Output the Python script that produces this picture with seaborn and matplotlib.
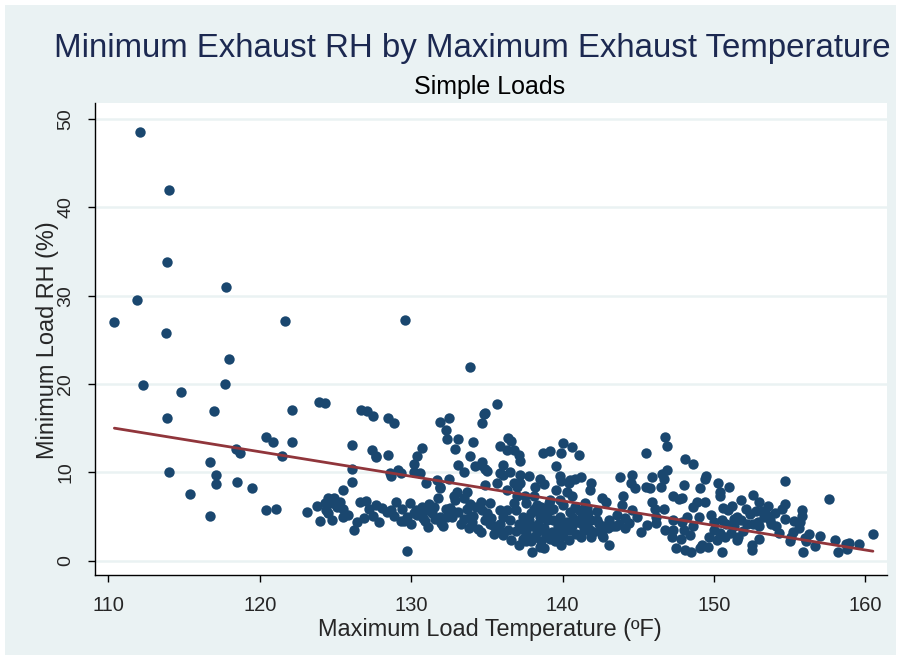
import numpy as np
import pandas as pd
import seaborn as sns
import matplotlib.pyplot as plt
from matplotlib.patches import Rectangle

# max exhaust temperature (F) / min exhaust RH (%), grouped by x range
temp_left = [110.4, 111.9, 112.1, 114.0, 113.9, 117.8, 113.8, 118.0, 112.3, 114.8,
             117.7, 121.7, 113.9, 117.0, 122.1, 123.9, 124.3, 120.4, 120.9, 122.1,
             118.4, 118.7, 121.5, 116.7, 114.0, 117.1, 117.1, 118.5, 119.5, 115.4,
             116.7, 120.4, 121.1, 123.1, 123.8, 124.0, 129.6, 133.9, 135.7]
rh_left = [27.0, 29.5, 48.5, 42.0, 33.8, 31.0, 25.8, 22.8, 19.9, 19.1,
           20.0, 27.1, 16.2, 16.9, 17.1, 18.0, 17.9, 14.0, 13.4, 13.4,
           12.7, 12.2, 11.8, 11.2, 10.1, 9.7, 8.7, 8.9, 8.2, 7.5,
           5.1, 5.7, 5.9, 5.5, 6.2, 4.5, 27.2, 21.9, 17.7]

temp_125_137 = [126.7, 127.1, 127.5, 128.5, 128.9, 131.9, 132.5, 132.3, 132.4, 133.1,
                134.7, 134.8, 134.9, 134.1, 132.9, 126.1, 127.4, 127.7, 127.7, 128.5,
                130.7, 130.4, 130.2, 126.1, 126.1, 128.6, 129.1, 129.3, 128.7, 130.2,
                130.6, 131.0, 131.7, 131.9, 132.5, 133.1, 133.5, 133.9, 134.7, 134.9,
                135.0, 134.2, 134.6, 135.9, 136.1, 136.4, 136.6, 136.3, 136.8, 134.9,
                135.7, 135.9, 136.1, 136.5, 125.5, 124.3, 124.5, 124.8, 124.4, 124.9,
                125.1, 125.3, 125.5, 125.5, 124.8, 124.5, 126.2, 126.4, 126.6, 127.0,
                127.2, 127.7, 128.4, 128.7, 129.3, 129.5, 129.7, 129.7, 129.9, 130.3,
                130.6, 130.2, 130.4, 130.7, 131.0, 131.4, 131.6, 131.9, 132.3, 132.4,
                132.7, 131.8, 131.9, 132.8, 133.0, 132.9, 133.5, 133.7, 133.7, 133.8,
                133.5, 133.8, 134.4, 134.3, 134.7, 135.0, 134.9, 135.2, 135.5, 135.5,
                136.1, 135.9, 136.1, 136.3, 136.5, 136.8, 137.0, 137.1, 136.3, 136.8,
                137.0]
rh_125_137 = [17.1, 17.0, 16.4, 16.2, 15.6, 15.7, 16.2, 14.8, 13.8, 13.8,
              15.6, 16.6, 16.7, 13.4, 12.6, 13.1, 12.5, 11.9, 11.7, 12.0,
              12.8, 11.8, 11.0, 10.4, 8.9, 9.9, 10.3, 9.9, 9.6, 10.1,
              9.9, 8.8, 9.1, 8.4, 9.2, 10.8, 10.1, 11.8, 11.2, 10.4,
              10.2, 10.7, 10.8, 13.0, 10.8, 13.9, 13.5, 12.5, 12.5, 8.6,
              8.8, 9.9, 9.7, 10.0, 8.0, 6.5, 7.1, 6.5, 5.7, 7.1,
              6.1, 6.7, 5.9, 5.0, 4.6, 5.4, 3.5, 4.4, 6.6, 6.8,
              5.9, 6.3, 5.5, 5.7, 4.5, 4.5, 5.0, 1.1, 6.5, 5.7,
              5.6, 5.4, 5.2, 6.1, 5.7, 5.4, 4.7, 5.0, 5.9, 5.0,
              4.9, 7.1, 8.2, 7.3, 7.8, 6.9, 7.1, 7.8, 5.9, 4.8,
              4.7, 3.7, 3.6, 6.1, 5.7, 5.4, 4.6, 6.5, 3.9, 3.0,
              2.9, 4.2, 5.0, 5.7, 4.6, 6.5, 7.3, 4.1, 8.0, 8.8,
              8.4]

temp_137_141 = [137.1, 137.2, 138.7, 139.2, 139.9, 140.0, 140.6, 139.6, 139.8, 139.9,
                140.4, 140.5, 140.8, 138.5, 138.8, 137.8, 137.2, 137.2, 139.6, 140.3,
                140.5, 140.2, 139.9, 139.6, 139.2, 139.4, 139.0, 138.7, 138.5, 138.1,
                138.5, 138.0, 137.6, 137.4, 137.9, 137.5, 136.9, 137.5, 138.1, 138.3,
                139.1, 139.2, 139.8, 139.8, 140.8, 137.6, 138.1, 138.6, 139.0, 139.8,
                140.3, 140.7, 138.4, 138.8, 139.3, 139.7, 140.2, 140.6, 137.6, 138.2,
                137.9, 138.6, 137.4, 138.2, 140.6, 139.2]
rh_137_141 = [12.0, 11.3, 12.2, 12.4, 12.2, 13.3, 12.9, 10.7, 9.6, 9.0,
              8.8, 9.1, 9.2, 9.2, 8.7, 9.6, 9.7, 8.8, 8.0, 7.8,
              3.5, 4.2, 3.5, 2.7, 2.5, 4.6, 4.6, 5.7, 5.0, 2.7,
              1.6, 1.0, 2.2, 2.5, 3.9, 4.2, 5.7, 7.3, 7.3, 6.3,
              6.5, 5.7, 6.9, 4.2, 6.1, 6.5, 5.9, 6.1, 5.4, 5.0,
              4.4, 4.8, 4.2, 3.7, 3.3, 3.9, 3.7, 3.9, 3.1, 2.7,
              2.2, 2.2, 5.0, 8.4, 7.3, 6.9]

temp_141_147 = [146.8, 146.9, 145.5, 141.1, 141.2, 143.8, 144.6, 145.9, 146.6, 146.7,
                146.9, 141.9, 141.8, 144.5, 144.8, 145.5, 145.8, 146.5, 147.3, 142.6,
                142.9, 144.0, 143.9, 144.6, 145.9, 146.1, 146.7, 146.2, 141.5, 141.1,
                141.3, 141.7, 141.9, 142.3, 142.4, 142.8, 143.5, 143.0, 143.7, 144.1,
                141.5, 141.2, 141.9, 142.6, 143.1, 145.2, 146.8, 147.2, 141.6, 141.8,
                141.4, 142.3, 142.7, 143.3, 144.1]
rh_141_147 = [14.0, 13.0, 12.2, 12.0, 9.5, 9.5, 9.7, 9.5, 9.8, 9.2,
              10.3, 8.8, 8.0, 8.8, 8.2, 8.4, 8.2, 8.3, 7.3, 7.1,
              6.7, 7.3, 6.3, 5.7, 6.7, 5.9, 5.9, 5.0, 6.5, 5.7,
              5.0, 5.4, 4.6, 5.6, 4.2, 3.9, 3.9, 3.7, 4.2, 3.7,
              3.5, 2.7, 2.7, 2.9, 1.8, 3.2, 3.5, 2.7, 4.2, 3.5,
              3.5, 4.6, 2.7, 3.9, 4.8]

temp_147_154 = [148.1, 148.6, 149.4, 149.5, 150.3, 151.0, 150.4, 150.4, 148.0, 147.9,
                149.1, 148.9, 148.6, 149.4, 151.8, 152.6, 153.0, 153.6, 151.5, 151.8,
                152.4, 152.8, 153.3, 152.6, 152.2, 153.0, 150.9, 150.0, 150.5, 150.8,
                151.3, 150.0, 150.4, 149.7, 150.2, 150.7, 151.1, 151.6, 147.3, 148.0,
                148.4, 148.6, 147.8, 147.5, 148.1, 148.5, 149.2, 149.1, 149.6, 150.5,
                152.5, 152.5, 153.0, 151.5, 147.3, 147.9, 148.2, 147.7]
rh_147_154 = [11.5, 10.9, 9.2, 9.6, 8.8, 8.3, 7.8, 7.3, 8.6, 7.1,
              8.2, 6.7, 6.1, 6.7, 6.9, 7.4, 6.7, 6.2, 5.0, 4.6,
              5.3, 5.6, 5.0, 4.2, 4.2, 3.9, 5.7, 4.4, 4.6, 4.2,
              3.9, 3.5, 3.1, 2.7, 2.3, 2.7, 3.1, 2.7, 3.5, 3.5,
              2.9, 3.9, 2.5, 1.4, 1.2, 1.0, 1.8, 1.4, 1.6, 1.0,
              1.8, 1.2, 2.5, 2.3, 4.6, 4.4, 5.0, 7.0]

temp_right = [154.7, 157.6, 154.7, 153.5, 154.7, 155.8, 155.8, 155.7, 155.6, 155.2,
              154.1, 153.7, 154.3, 155.1, 156.0, 157.0, 155.0, 156.1, 156.7, 155.9,
              158.0, 158.2, 158.7, 158.9, 158.8, 159.6, 160.5]
rh_right = [9.0, 7.0, 6.4, 5.2, 4.7, 5.7, 5.1, 4.4, 3.7, 3.3,
            3.9, 4.6, 3.1, 2.7, 2.6, 2.8, 2.2, 2.2, 1.7, 1.0,
            2.3, 1.0, 1.9, 2.0, 1.3, 1.9, 3.0]

# overplotted points inside the dense band (125-156 F, 2-7 %)
temp_dense = [136.9, 137.3, 137.8, 138.3, 138.9, 139.5, 140.0, 140.4, 140.9, 141.3,
              136.6, 137.1, 138.8, 139.9, 137.9, 138.4, 139.4, 140.0, 140.5, 141.0,
              141.6, 142.0, 142.5, 143.1, 143.6, 144.4, 144.9, 145.6, 146.2, 134.0,
              134.6, 135.2, 135.9, 136.4, 133.1, 132.0, 131.2, 130.8, 132.6, 149.0,
              149.8, 150.6, 151.3, 151.9, 152.9]
rh_dense = [3.4, 3.6, 4.6, 3.3, 2.9, 2.2, 2.8, 2.3, 3.0, 4.1,
            2.4, 1.8, 1.4, 1.8, 5.4, 5.6, 5.9, 6.3, 5.5, 4.4,
            6.0, 3.2, 3.4, 4.6, 5.2, 4.3, 4.9, 4.0, 4.3, 4.4,
            3.3, 4.2, 5.7, 3.5, 5.5, 4.3, 6.4, 4.8, 6.0, 4.9,
            5.2, 6.0, 4.7, 3.4, 4.4]

temp_dense2 = [125.8, 126.9, 127.5, 128.1, 128.9, 129.4, 130.0, 130.9, 131.5, 132.1,
               132.8, 133.3, 134.1, 134.6, 135.3, 135.8, 133.9, 131.1, 129.0, 127.9,
               152.1, 153.2, 154.0, 154.5, 155.3, 156.3, 151.2, 153.8]
rh_dense2 = [5.2, 4.8, 5.1, 6.0, 5.1, 5.8, 4.2, 4.5, 6.1, 3.9,
             5.5, 4.2, 5.1, 6.7, 4.8, 3.5, 6.4, 3.8, 6.7, 4.4,
             5.8, 5.6, 5.4, 5.9, 4.5, 3.0, 6.2, 4.1]

df = pd.DataFrame({
    'Max_Temp': temp_left + temp_125_137 + temp_137_141 + temp_141_147 + temp_147_154
                + temp_right + temp_dense + temp_dense2,
    'Min_RH': rh_left + rh_125_137 + rh_137_141 + rh_141_147 + rh_147_154
              + rh_right + rh_dense + rh_dense2,
})

sns.set_style('white')
plt.rcParams['font.family'] = ['Liberation Sans', 'DejaVu Sans']

bg = '#EAF2F3'
fig = plt.figure(figsize=(9.01, 6.6), dpi=100, facecolor='white')
fig.patches.append(Rectangle((5/901, 5/660), 891/901, 650/660, transform=fig.transFigure,
                             facecolor=bg, edgecolor='none', zorder=-1))

ax = fig.add_axes([95/901, 85/660, 792/901, 472/660])
ax.set_facecolor('white')

sns.regplot(data=df, x='Max_Temp', y='Min_RH', ci=None, ax=ax,
            scatter_kws=dict(s=56, color='#1A476F', linewidths=0, alpha=1, zorder=3),
            line_kws=dict(color='#90353B', lw=2, zorder=4))

ax.set_xlim(109.12, 161.43)
ax.set_ylim(-1.62, 51.83)
ax.set_xticks(np.arange(110, 161, 10))
ax.set_yticks(np.arange(0, 51, 10))
ax.yaxis.grid(True, color=bg, lw=1.8)
ax.xaxis.grid(False)
ax.set_axisbelow(True)

for s in ['top', 'right']:
    ax.spines[s].set_visible(False)
for s in ['left', 'bottom']:
    ax.spines[s].set_color('black')
    ax.spines[s].set_linewidth(1)

ax.tick_params(axis='both', direction='out', length=5, width=1, color='black',
               labelsize=14.5, left=True, bottom=True)
ax.tick_params(axis='x', pad=10)
ax.tick_params(axis='y', labelsize=14, pad=10, labelrotation=90)
for lab in ax.get_yticklabels():
    lab.set_va('center')

ax.set_xlabel('Maximum Load Temperature (ºF)', fontsize=16.9)
ax.set_ylabel('Minimum Load RH (%)', fontsize=16.9)
ax.xaxis.set_label_coords(0.499, -0.091)
ax.yaxis.set_label_coords(-0.046, 0.498)

fig.text(472/901, 1 - 48/660, 'Minimum Exhaust RH by Maximum Exhaust Temperature',
         ha='center', va='center', fontsize=23.8, color='#1C2951')
fig.text(490/901, 1 - 87/660, 'Simple Loads', ha='center', va='center', fontsize=18, color='black')

plt.savefig('out.png', dpi=100, facecolor=fig.get_facecolor())
